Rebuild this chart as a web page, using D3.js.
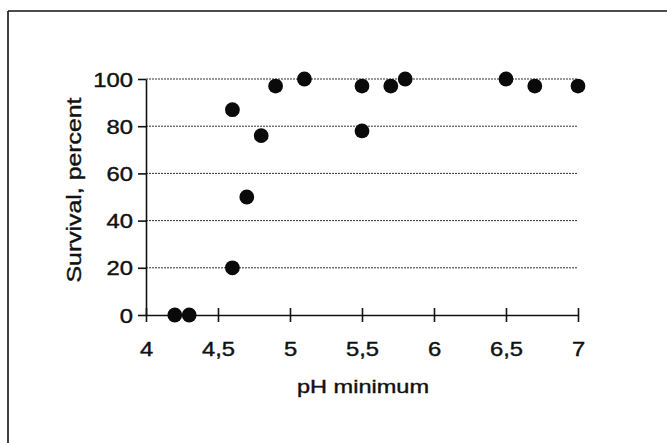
<!DOCTYPE html>
<html>
<head>
<meta charset="utf-8">
<script src="https://cdn.jsdelivr.net/npm/d3@7"></script>
<style>
  body { margin: 0; background: #fff; }
  text { font-family: "Liberation Sans", Arial, sans-serif; fill: #111; }
</style>
</head>
<body>
<svg width="667" height="443"></svg>
<script>
let phValues = [4.2, 4.3, 4.6, 4.6, 4.7, 4.8, 4.9, 5.1, 5.5, 5.5, 5.7, 5.8, 6.5, 6.7, 7.0];
let survival = [0, 0, 87, 20, 50, 76, 97, 100, 97, 78, 97, 100, 100, 97, 97];
let xTicks = [4, 4.5, 5, 5.5, 6, 6.5, 7];
let yTicks = [0, 20, 40, 60, 80, 100];

let points = phValues.map((p, i) => ({ ph: p, s: survival[i] }));

let svg = d3.select("svg");
let plotLeft = 146, plotRight = 578, plotTop = 79, plotBottom = 315;
let stretch = 1.22; // the scanned lettering is wider than plain Arial

// frame (top and left edges only visible)
svg.append("line").attr("x1", 8).attr("x2", 667).attr("y1", 11).attr("y2", 11)
   .attr("stroke", "#111").attr("stroke-width", 1.6);
svg.append("line").attr("x1", 8).attr("x2", 8).attr("y1", 11).attr("y2", 443)
   .attr("stroke", "#111").attr("stroke-width", 1.6);

let xScale = d3.scaleLinear().domain([4, 7]).range([plotLeft, plotRight]);
let yScale = d3.scaleLinear().domain([0, 100]).range([plotBottom, plotTop]);

// gridlines
svg.append("g")
  .selectAll("line")
  .data(yTicks.filter(d => d > 0))
  .enter()
  .append("line")
    .attr("x1", plotLeft)
    .attr("x2", plotRight)
    .attr("y1", d => yScale(d))
    .attr("y2", d => yScale(d))
    .attr("stroke", "#333")
    .attr("stroke-width", 1)
    .attr("stroke-dasharray", "2,1");

let yAxis = d3.axisLeft(yScale).tickValues(yTicks).tickSize(8).tickSizeOuter(0);
let gy = svg.append("g").attr("transform", "translate(" + plotLeft + ",0)").call(yAxis);
gy.selectAll("text")
  .style("font-size", "19.5px")
  .attr("dy", "0.36em")
  .attr("x", -13 / stretch)
  .attr("transform", "scale(" + stretch + ",1)");

let xAxis = d3.axisBottom(xScale).tickValues(xTicks).tickSize(7).tickSizeOuter(0).tickPadding(20)
  .tickFormat(d => String(d).replace(".", ","));
let gx = svg.append("g").attr("transform", "translate(0," + plotBottom + ")").call(xAxis);
gx.selectAll(".tick line").attr("y1", -7);
gx.selectAll("text")
  .style("font-size", "19.5px")
  .attr("transform", "scale(" + stretch + ",1)");

[gx, gy].forEach(g => {
  g.selectAll("path, line").attr("stroke", "#111").attr("stroke-width", 1.6);
  g.selectAll("text").attr("fill", "#111").attr("stroke", "#111").attr("stroke-width", 0.4);
});

svg.append("text")
  .attr("x", 363)
  .attr("y", 393)
  .style("text-anchor", "middle")
  .style("font-size", "19px")
  .attr("textLength", 132)
  .attr("lengthAdjust", "spacingAndGlyphs")
  .attr("stroke", "#111").attr("stroke-width", 0.4)
  .text("pH minimum");

svg.append("text")
  .attr("transform", "rotate(-90)")
  .attr("x", -190)
  .attr("y", 81)
  .style("text-anchor", "middle")
  .style("font-size", "20px")
  .attr("textLength", 185)
  .attr("lengthAdjust", "spacingAndGlyphs")
  .attr("stroke", "#111").attr("stroke-width", 0.4)
  .text("Survival, percent");

svg.append("g")
  .selectAll("circle")
  .data(points)
  .enter()
  .append("circle")
    .attr("cx", d => xScale(d.ph))
    .attr("cy", d => yScale(d.s))
    .attr("r", 7.4)
    .attr("fill", "#0a0a0a");
</script>
</body>
</html>
